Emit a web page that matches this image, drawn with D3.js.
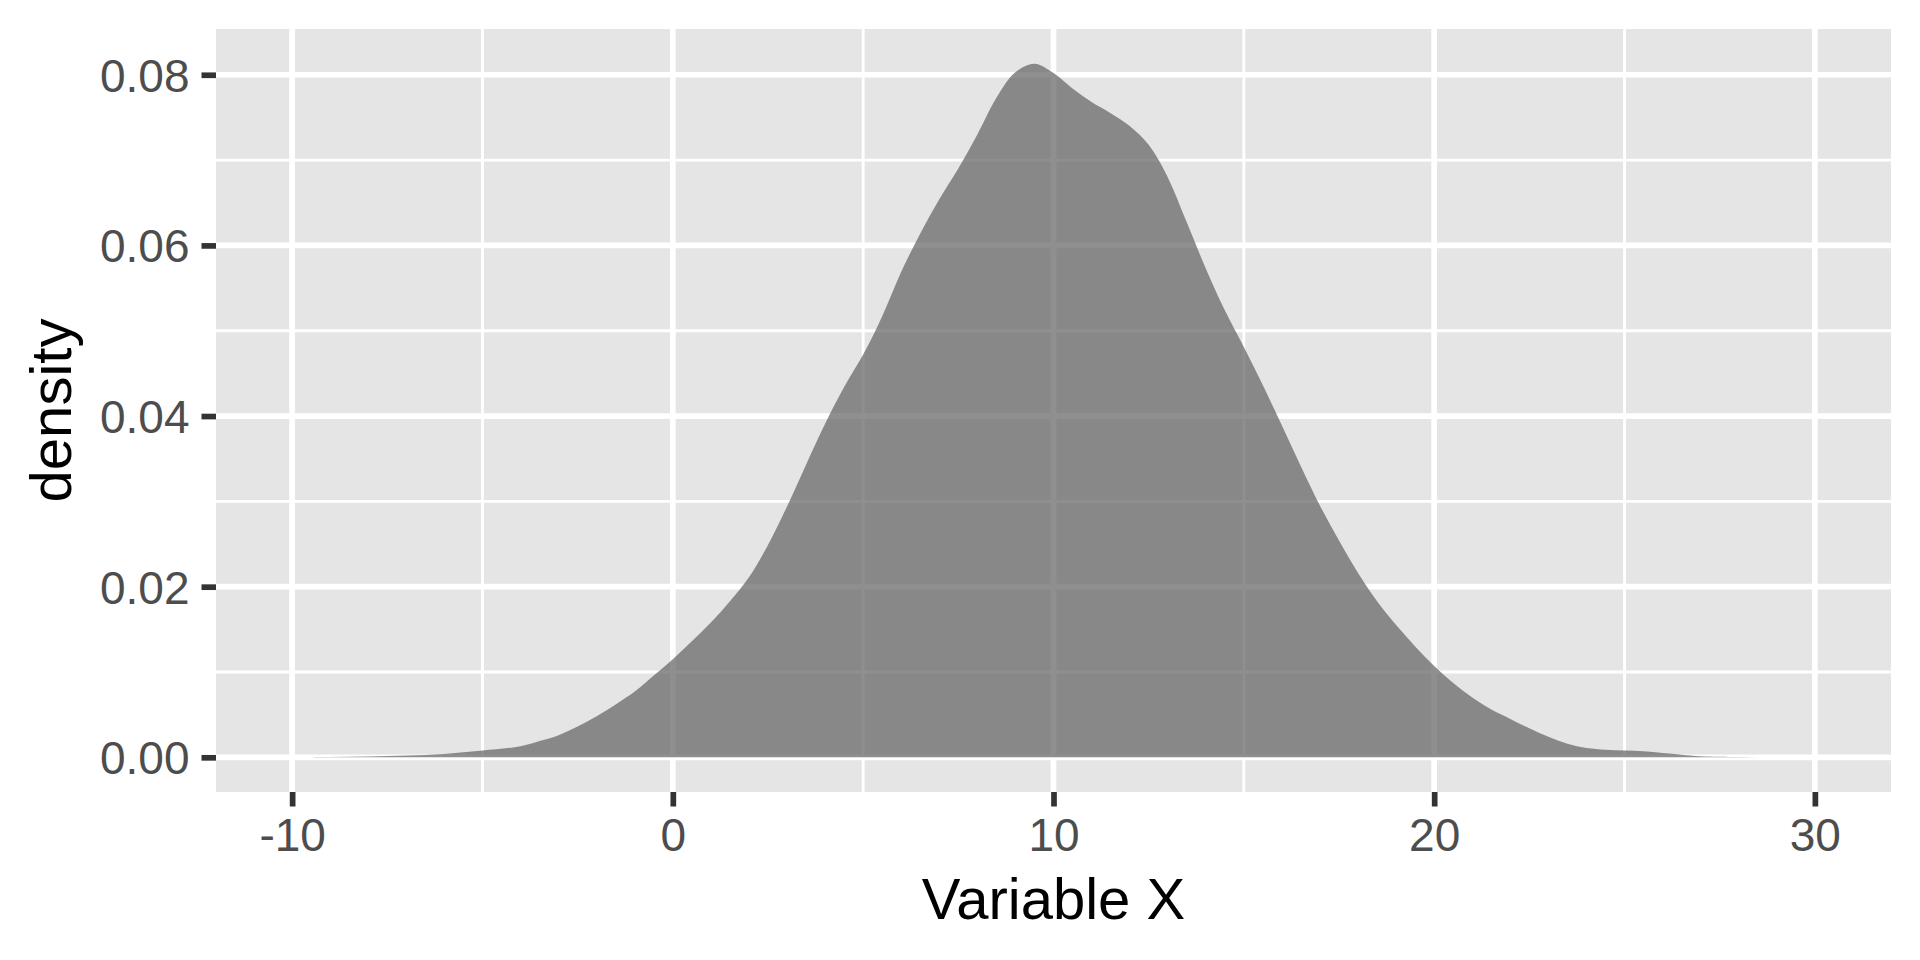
<!DOCTYPE html>
<html>
<head>
<meta charset="utf-8">
<script src="https://cdn.jsdelivr.net/npm/d3@7/dist/d3.min.js"></script>
<style>
  html, body { margin: 0; padding: 0; background: #ffffff; }
  svg { display: block; }
  text { font-family: "Liberation Sans", Arial, Helvetica, sans-serif; }
</style>
</head>
<body>
<svg id="chart" width="1920" height="960"></svg>
<script>
// ---- data ----
const xValues = [-10, -9, -8, -7, -6, -5, -4, -3.5, -3, -2.5, -2, -1.5, -1, -0.5, 0, 0.5, 1, 1.5, 2, 2.5, 3, 3.5, 4, 4.5, 5, 5.5, 6, 6.5, 7, 7.5, 8, 8.5, 9, 9.5, 10, 10.5, 11, 11.5, 12, 12.5, 13, 13.5, 14, 14.5, 15, 15.5, 16, 16.5, 17, 17.5, 18, 18.5, 19, 19.5, 20, 20.5, 21, 21.5, 22, 22.5, 23, 23.5, 24, 24.5, 25, 25.5, 26, 26.5, 27, 28, 29, 30];
const densityValues = [0.00002, 0.00005, 0.0001, 0.0002, 0.0004, 0.0008, 0.0013, 0.0019, 0.0026, 0.0036, 0.0048, 0.0062, 0.0077, 0.0096, 0.0115, 0.0136, 0.0158, 0.0183, 0.0211, 0.0249, 0.0294, 0.0343, 0.0391, 0.0434, 0.0472, 0.0517, 0.0569, 0.0614, 0.0654, 0.0690, 0.0730, 0.0773, 0.0803, 0.0813, 0.0802, 0.0784, 0.0768, 0.0755, 0.0740, 0.0718, 0.0680, 0.0627, 0.0573, 0.0524, 0.0481, 0.0436, 0.0389, 0.0341, 0.0295, 0.0254, 0.0216, 0.0183, 0.0155, 0.0130, 0.0107, 0.0087, 0.0070, 0.0056, 0.0045, 0.0034, 0.0024, 0.0016, 0.0011, 0.0009, 0.0008, 0.0007, 0.0005, 0.0003, 0.00012, 0.00003, 0.00001, 0];
const xTicks = [-10, 0, 10, 20, 30];
const xMinorTicks = [-5, 5, 15, 25];
const yTicks = [0, 0.02, 0.04, 0.06, 0.08];
const yMinorTicks = [0.01, 0.03, 0.05, 0.07];
const xTitle = "Variable X";
const yTitle = "density";

// ---- layout ----
const panel = { left: 216, right: 1891, top: 29, bottom: 792 };
const svg = d3.select("#chart");

const xMin = d3.min(xValues), xMax = d3.max(xValues);
const yMax = d3.max(densityValues);
const xPad = (xMax - xMin) * 0.05;
const yPad = yMax * 0.05;

const x = d3.scaleLinear().domain([xMin - xPad, xMax + xPad]).range([panel.left, panel.right]);
const y = d3.scaleLinear().domain([0 - yPad, yMax + yPad]).range([panel.bottom, panel.top]);

// panel background
svg.append("rect")
  .attr("x", panel.left).attr("y", panel.top)
  .attr("width", panel.right - panel.left).attr("height", panel.bottom - panel.top)
  .attr("fill", "#E5E5E5");

const grid = svg.append("g");
// minor grid
grid.selectAll("line.xminor").data(xMinorTicks).enter().append("line")
  .attr("x1", d => x(d)).attr("x2", d => x(d))
  .attr("y1", panel.top).attr("y2", panel.bottom)
  .attr("stroke", "#ffffff").attr("stroke-width", 2.9);
grid.selectAll("line.yminor").data(yMinorTicks).enter().append("line")
  .attr("y1", d => y(d)).attr("y2", d => y(d))
  .attr("x1", panel.left).attr("x2", panel.right)
  .attr("stroke", "#ffffff").attr("stroke-width", 2.9);
// major grid
grid.selectAll("line.xmajor").data(xTicks).enter().append("line")
  .attr("x1", d => x(d)).attr("x2", d => x(d))
  .attr("y1", panel.top).attr("y2", panel.bottom)
  .attr("stroke", "#ffffff").attr("stroke-width", 5.7);
grid.selectAll("line.ymajor").data(yTicks).enter().append("line")
  .attr("y1", d => y(d)).attr("y2", d => y(d))
  .attr("x1", panel.left).attr("x2", panel.right)
  .attr("stroke", "#ffffff").attr("stroke-width", 5.7);

// density area
const pts = xValues.map((v, i) => ({ x: v, y: densityValues[i] }));
const area = d3.area()
  .x(d => x(d.x))
  .y0(y(0))
  .y1(d => y(d.y))
  .curve(d3.curveCatmullRom.alpha(0.5));
svg.append("path")
  .datum(pts)
  .attr("d", area)
  .attr("fill", "rgb(102,102,102)")
  .attr("fill-opacity", 0.73);

// x axis
const xAxis = d3.axisBottom(x).tickValues(xTicks).tickSize(14.5).tickPadding(12)
  .tickFormat(d3.format("d"));
const gx = svg.append("g").attr("transform", `translate(0,${panel.bottom})`).call(xAxis);
gx.select(".domain").remove();
gx.selectAll(".tick line").attr("stroke", "#333333").attr("stroke-width", 5.7);
gx.selectAll(".tick text")
  .attr("fill", "#4D4D4D").attr("font-size", 46).attr("dy", "0.71em")
  .text(d => d < 0 ? "-" + Math.abs(d) : String(d));

// y axis
const yAxis = d3.axisLeft(y).tickValues(yTicks).tickSize(14.5).tickPadding(12)
  .tickFormat(d3.format(".2f"));
const gy = svg.append("g").attr("transform", `translate(${panel.left},0)`).call(yAxis);
gy.select(".domain").remove();
gy.selectAll(".tick line").attr("stroke", "#333333").attr("stroke-width", 5.7);
gy.selectAll(".tick text")
  .attr("fill", "#4D4D4D").attr("font-size", 46).attr("dy", "0.36em");

// axis titles
svg.append("text")
  .attr("x", (panel.left + panel.right) / 2).attr("y", 919)
  .attr("text-anchor", "middle").attr("font-size", 58).attr("fill", "#000000")
  .text(xTitle);
svg.append("text")
  .attr("transform", `translate(71,${(panel.top + panel.bottom) / 2}) rotate(-90)`)
  .attr("text-anchor", "middle").attr("font-size", 58).attr("fill", "#000000")
  .text(yTitle);
</script>
</body>
</html>
